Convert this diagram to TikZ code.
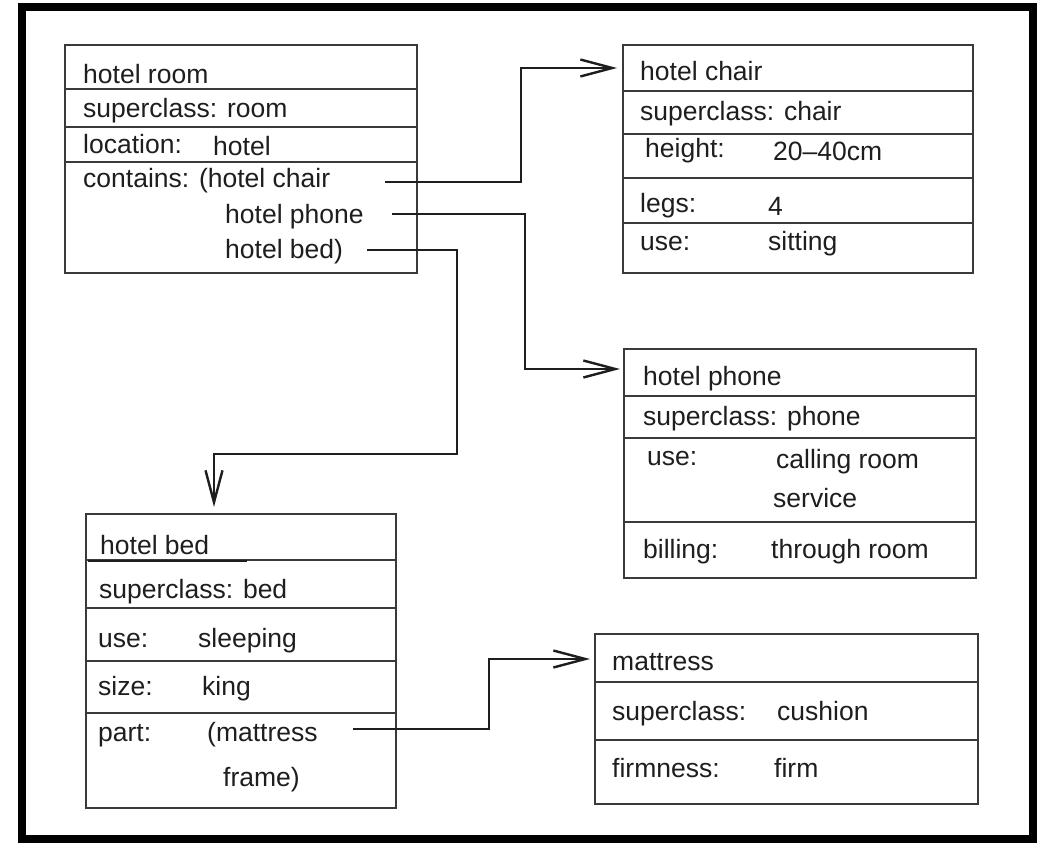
\documentclass[tikz,border=0pt]{standalone}
\usepackage{fontspec}
\setmainfont{Liberation Sans}
\usetikzlibrary{arrows.meta}
\definecolor{boxline}{HTML}{3A3A3A}
\definecolor{ink}{HTML}{1E1E1E}
\tikzset{
  framebox/.style={draw=black, line width=8pt},
  slotbox/.style={draw=boxline, line width=2pt, rectangle, anchor=north west, inner sep=0pt},
  divider/.style={draw=boxline, line width=1.8pt},
  txt/.style={anchor=base west, inner sep=0pt, text=ink, font=\fontsize{26.5}{30}\selectfont},
  conn/.style={draw=ink, line width=2.4pt, -{Straight Barb[length=32pt, width=17pt, line width=2.4pt]}},
}
\begin{document}
\begin{tikzpicture}[x=1pt,y=-1pt]
\useasboundingbox (0,0) rectangle (1049,843);
\fill[white] (0,0) rectangle (1049,843);
\draw[framebox] (22,7) rectangle (1033,839);

% hotel room
\node[slotbox, minimum width=352pt, minimum height=228pt] (room) at (64,44) {};
\draw[divider] (64,89) -- (416,89);
\draw[divider] (64,127) -- (416,127);
\draw[divider] (64,162) -- (416,162);
\node[txt] (r1) at (83,83) {hotel room};
\node[txt] (r2) at (83,117) {superclass: room};
\node[txt] (r3) at (83,153) {location:};
\node[txt] (r3v) at (213,155) {hotel};
\node[txt] (r4) at (83,187) {contains: (hotel chair};
\node[txt] (r5) at (225,223) {hotel phone};
\node[txt] (r6) at (225,258) {hotel bed)};

% hotel chair
\node[slotbox, minimum width=350pt, minimum height=228pt] (chair) at (622,44) {};
\draw[divider] (622,91) -- (972,91);
\draw[divider] (622,134) -- (972,134);
\draw[divider] (622,178) -- (972,178);
\draw[divider] (622,223) -- (972,223);
\node[txt] (c1) at (640,81) {hotel chair};
\node[txt] (c2) at (640,120) {superclass: chair};
\node[txt] (c3) at (645,157) {height:};
\node[txt] (c3v) at (773,160) {20--40cm};
\node[txt] (c4) at (640,212) {legs:};
\node[txt] (c4v) at (768,215) {4};
\node[txt] (c5) at (640,250) {use:};
\node[txt] (c5v) at (768,250) {sitting};

% hotel phone
\node[slotbox, minimum width=352pt, minimum height=229pt] (phone) at (623,348) {};
\draw[divider] (623,396) -- (975,396);
\draw[divider] (623,438) -- (975,438);
\draw[divider] (623,522) -- (975,522);
\node[txt] (p1) at (643,385) {hotel phone};
\node[txt] (p2) at (643,425) {superclass: phone};
\node[txt] (p3) at (647,465) {use:};
\node[txt] (p3v) at (776,468) {calling room};
\node[txt] (p3w) at (773,507) {service};
\node[txt] (p4) at (643,558) {billing:};
\node[txt] (p4v) at (771,558) {through room};

% hotel bed
\node[slotbox, minimum width=310pt, minimum height=294pt] (bed) at (85,513) {};
\draw[divider] (85,560) -- (395,560);
\draw[draw=ink, line width=2.4pt] (88,561) -- (247,561);
\draw[divider] (85,608) -- (395,608);
\draw[divider] (85,661) -- (395,661);
\draw[divider] (85,713) -- (395,713);
\node[txt] (b1) at (100,554) {hotel bed};
\node[txt] (b2) at (99,598) {superclass: bed};
\node[txt] (b3) at (98,647) {use:};
\node[txt] (b3v) at (198,647) {sleeping};
\node[txt] (b4) at (98,695) {size:};
\node[txt] (b4v) at (202,695) {king};
\node[txt] (b5) at (98,741) {part:};
\node[txt] (b5v) at (207,741) {(mattress};
\node[txt] (b5w) at (223,786) {frame)};

% mattress
\node[slotbox, minimum width=383pt, minimum height=170pt] (matt) at (594,633) {};
\draw[divider] (594,682) -- (977,682);
\draw[divider] (594,740) -- (977,740);
\node[txt] (m1) at (612,670) {mattress};
\node[txt] (m2) at (612,720) {superclass:};
\node[txt] (m2v) at (777,720) {cushion};
\node[txt] (m3) at (612,777) {firmness:};
\node[txt] (m3v) at (774,777) {firm};

% connector ends
\coordinate (outChair) at (385,182);
\coordinate (outPhone) at (392,214);
\coordinate (outBed) at (367,250);
\coordinate (outMatt) at (353,729);
\coordinate (inChair) at (617,68);
\coordinate (inPhone) at (620,369);
\coordinate (inBed) at (214,507);
\coordinate (inMatt) at (590,659);

\draw[conn] (outChair) -- (521,182) |- (inChair);
\draw[conn] (outPhone) -- (525,214) |- (inPhone);
\draw[conn] (outBed) -- (457,250) -- (457,454) -| (inBed);
\draw[conn] (outMatt) -- (489,729) |- (inMatt);
\end{tikzpicture}
\end{document}
